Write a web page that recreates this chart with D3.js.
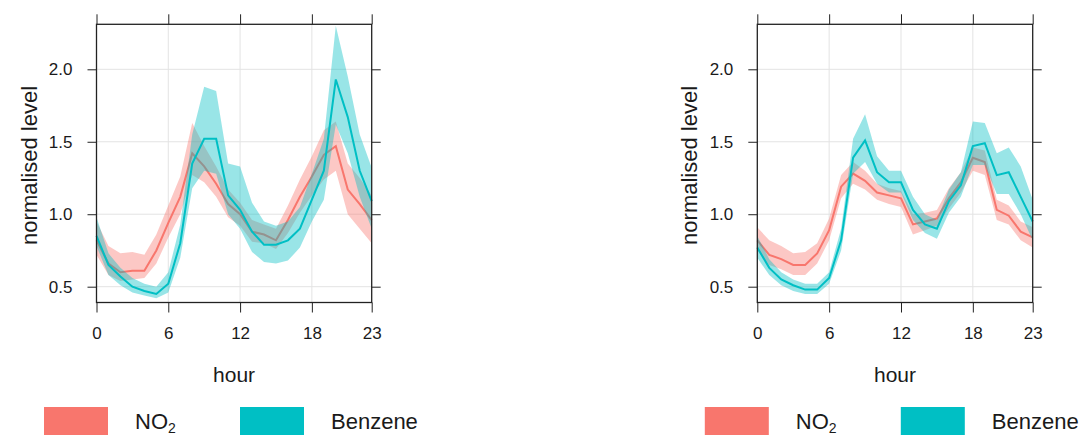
<!DOCTYPE html>
<html>
<head>
<meta charset="utf-8">
<script src="https://cdn.jsdelivr.net/npm/d3@7"></script>
<style>
  body { margin: 0; background: #fff; }
  svg text { font-family: "Liberation Sans", Arial, sans-serif; fill: #1a1a1a; }
</style>
</head>
<body>
<div id="chart"></div>
<script>
// hour of day
const hours = d3.range(0, 24);
const xTicks = [0, 6, 12, 18, 23];
const yTicks = [0.5, 1.0, 1.5, 2.0];
const seriesNames = ["NO2", "Benzene"];
const seriesColors = ["#F8766D", "#00BFC4"];

// left panel
const leftNo2 = [0.82, 0.66, 0.60, 0.61, 0.61, 0.75, 0.94, 1.12, 1.42, 1.33, 1.21, 1.07,
                 1.00, 0.88, 0.86, 0.82, 0.96, 1.12, 1.26, 1.41, 1.47, 1.17, 1.07, 0.96];
const leftNo2Lo = [0.72, 0.58, 0.54, 0.55, 0.56, 0.66, 0.84, 1.00, 1.27, 1.22, 1.12, 0.98,
                   0.92, 0.81, 0.80, 0.76, 0.87, 1.01, 1.13, 1.24, 1.30, 1.00, 0.90, 0.80];
const leftNo2Hi = [0.95, 0.78, 0.73, 0.74, 0.72, 0.86, 1.06, 1.26, 1.63, 1.47, 1.33, 1.17,
                   1.08, 0.96, 0.93, 0.90, 1.06, 1.24, 1.40, 1.58, 1.64, 1.35, 1.25, 1.13];
const leftBenz = [0.85, 0.65, 0.57, 0.50, 0.47, 0.45, 0.52, 0.80, 1.35, 1.52, 1.52, 1.13,
                  1.03, 0.88, 0.79, 0.79, 0.82, 0.90, 1.10, 1.30, 1.93, 1.67, 1.30, 1.09];
const leftBenzLo = [0.78, 0.58, 0.51, 0.46, 0.44, 0.42, 0.46, 0.70, 1.18, 1.30, 1.28, 1.00,
                    0.90, 0.74, 0.67, 0.66, 0.68, 0.77, 0.95, 1.10, 1.62, 1.42, 1.12, 0.90];
const leftBenzHi = [0.98, 0.73, 0.63, 0.56, 0.52, 0.50, 0.60, 0.93, 1.55, 1.88, 1.85, 1.35,
                    1.33, 1.08, 0.95, 0.92, 0.95, 1.05, 1.28, 1.52, 2.30, 1.95, 1.55, 1.32];

// right panel
const rightNo2 = [0.82, 0.72, 0.69, 0.65, 0.65, 0.73, 0.89, 1.19, 1.28, 1.23, 1.15, 1.13,
                  1.11, 0.93, 0.95, 0.97, 1.11, 1.22, 1.39, 1.36, 1.03, 0.99, 0.88, 0.84];
const rightNo2Lo = [0.75, 0.65, 0.62, 0.58, 0.58, 0.66, 0.82, 1.11, 1.21, 1.17, 1.10, 1.07,
                    1.05, 0.86, 0.89, 0.92, 1.04, 1.15, 1.30, 1.27, 0.96, 0.93, 0.82, 0.77];
const rightNo2Hi = [0.91, 0.82, 0.78, 0.73, 0.74, 0.80, 0.97, 1.27, 1.36, 1.30, 1.21, 1.18,
                    1.16, 1.00, 1.01, 1.03, 1.18, 1.29, 1.46, 1.44, 1.10, 1.06, 0.95, 0.91];
const rightBenz = [0.77, 0.63, 0.55, 0.51, 0.48, 0.48, 0.56, 0.82, 1.39, 1.51, 1.29, 1.22,
                   1.22, 1.03, 0.93, 0.90, 1.09, 1.20, 1.47, 1.49, 1.27, 1.29, 1.12, 0.95];
const rightBenzLo = [0.70, 0.58, 0.51, 0.47, 0.45, 0.45, 0.52, 0.75, 1.28, 1.36, 1.21, 1.15,
                     1.15, 0.96, 0.87, 0.83, 1.01, 1.12, 1.34, 1.34, 1.14, 1.14, 1.00, 0.82];
const rightBenzHi = [0.85, 0.69, 0.60, 0.55, 0.52, 0.52, 0.60, 0.90, 1.52, 1.69, 1.40, 1.30,
                     1.30, 1.12, 1.00, 0.96, 1.17, 1.29, 1.64, 1.63, 1.42, 1.46, 1.33, 1.10];

const panels = [
    {left: 96.5, right: 371.7, series: [[leftNo2, leftNo2Lo, leftNo2Hi], [leftBenz, leftBenzLo, leftBenzHi]]},
    {left: 757.3, right: 1032.7, series: [[rightNo2, rightNo2Lo, rightNo2Hi], [rightBenz, rightBenzLo, rightBenzHi]]}
];

const width = 1082, height = 435;
const plotTop = 24.3, plotBottom = 302.5;

const svg = d3.select("#chart").append("svg")
    .attr("width", width)
    .attr("height", height);

panels.forEach(p => {
    let x = d3.scaleLinear().domain([0, 23]).range([p.left, p.right]);
    let y = d3.scaleLinear().domain([0.5, 2.0]).range([286.7, 69.3]);

    let g = svg.append("g");

    // grid
    g.selectAll(".vgrid").data(xTicks.slice(1, -1)).enter().append("line")
        .attr("x1", d => x(d)).attr("x2", d => x(d))
        .attr("y1", plotTop).attr("y2", plotBottom)
        .attr("stroke", "#e3e3e3").attr("stroke-width", 1);
    g.selectAll(".hgrid").data(yTicks).enter().append("line")
        .attr("x1", p.left).attr("x2", p.right)
        .attr("y1", d => y(d)).attr("y2", d => y(d))
        .attr("stroke", "#e3e3e3").attr("stroke-width", 1);

    // bands + lines
    p.series.forEach((s, i) => {
        let rows = hours.map((h, j) => ({h: h, m: s[0][j], lo: s[1][j], hi: s[2][j]}));
        let area = d3.area().x(d => x(d.h)).y0(d => y(d.lo)).y1(d => y(d.hi));
        let line = d3.line().x(d => x(d.h)).y(d => y(d.m));
        g.append("path").datum(rows)
            .attr("d", area)
            .attr("fill", seriesColors[i])
            .attr("fill-opacity", 0.4);
        g.append("path").datum(rows)
            .attr("d", line)
            .attr("fill", "none")
            .attr("stroke", seriesColors[i])
            .attr("stroke-width", 2);
    });

    // axes
    let axisStyle = sel => {
        sel.select(".domain").remove();
        sel.selectAll("line").attr("stroke", "#222");
        sel.selectAll("text").style("font-size", "17px").attr("fill", "#1a1a1a");
    };
    g.append("g").attr("transform", `translate(${p.left},0)`)
        .call(d3.axisLeft(y).tickValues(yTicks).tickSize(9).tickPadding(15).tickFormat(d3.format(".1f")))
        .call(axisStyle);
    g.append("g").attr("transform", `translate(${p.right},0)`)
        .call(d3.axisRight(y).tickValues(yTicks).tickSize(9).tickFormat(""))
        .call(axisStyle);
    g.append("g").attr("transform", `translate(0,${plotBottom})`)
        .call(d3.axisBottom(x).tickValues(xTicks).tickSize(10).tickPadding(14).tickFormat(d3.format("d")))
        .call(axisStyle);
    g.append("g").attr("transform", `translate(0,${plotTop})`)
        .call(d3.axisTop(x).tickValues(xTicks).tickSize(10).tickFormat(""))
        .call(axisStyle);

    // frame
    g.append("rect")
        .attr("x", p.left).attr("y", plotTop)
        .attr("width", p.right - p.left).attr("height", plotBottom - plotTop)
        .attr("fill", "none").attr("stroke", "#222").attr("stroke-width", 1.3);

    // axis titles
    g.append("text")
        .attr("transform", `translate(${p.left - 60},${(plotTop + plotBottom) / 2 + 2}) rotate(-90)`)
        .attr("text-anchor", "middle")
        .style("font-size", "22px")
        .text("normalised level");
    g.append("text")
        .attr("x", (p.left + p.right) / 2).attr("y", 382)
        .attr("text-anchor", "middle")
        .style("font-size", "21px")
        .text("hour");

    // legend
    let legX = [p.left - 52.5, p.left + 143.5];
    seriesNames.forEach((name, i) => {
        g.append("rect")
            .attr("x", legX[i]).attr("y", 407)
            .attr("width", 64).attr("height", 40)
            .attr("fill", seriesColors[i]);
        let t = g.append("text")
            .attr("x", legX[i] + 91).attr("y", 429)
            .style("font-size", "22px");
        if (name === "NO2") {
            t.append("tspan").text("NO");
            t.append("tspan").attr("dy", 4).style("font-size", "14px").text("2");
        } else {
            t.text(name);
        }
    });
});
</script>
</body>
</html>
